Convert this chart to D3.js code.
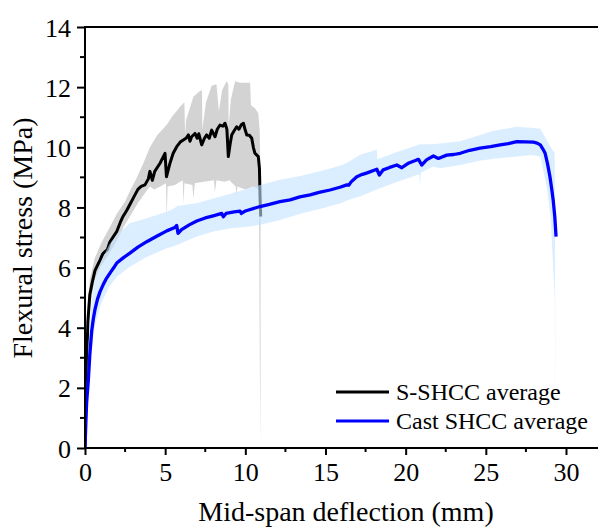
<!DOCTYPE html>
<html>
<head>
<meta charset="utf-8">
<script src="https://cdn.jsdelivr.net/npm/d3@7"></script>
<style>
  body { margin: 0; background: #fff; }
  svg { display: block; font-family: "Liberation Serif", "Times New Roman", serif; }
</style>
</head>
<body>
<svg id="chart" width="598" height="527"></svg>
<script>
// S-SHCC average curve [deflection mm, stress MPa]
const sshccAvg = [
  [0,0],[0.05,1.5],[0.1,2.8],[0.18,4.2],[0.3,5.1],[0.45,5.5],[0.62,5.9],[0.8,6.1],[0.94,6.25],
  [1.1,6.45],[1.25,6.53],[1.4,6.6],[1.55,6.85],[1.77,7.03],[1.98,7.2],[2.2,7.5],[2.37,7.7],
  [2.6,7.9],[2.8,8.1],[3.05,8.35],[3.3,8.6],[3.5,8.7],[3.74,8.75],[3.95,8.95],[4.05,9.2],
  [4.2,8.9],[4.35,9.2],[4.68,9.47],[4.99,9.8],[5.08,9.02],[5.3,9.47],[5.5,9.8],[5.72,10.02],
  [5.95,10.18],[6.13,10.24],[6.3,10.3],[6.45,10.41],[6.55,10.2],[6.65,10.35],[6.86,10.46],
  [7.0,10.3],[7.1,10.45],[7.28,10.08],[7.45,10.3],[7.59,10.41],[7.75,10.3],[7.9,10.57],
  [8.11,10.35],[8.25,10.6],[8.42,10.74],[8.6,10.7],[8.73,10.8],[8.85,10.6],[8.94,9.69],
  [9.05,10.1],[9.15,10.41],[9.3,10.55],[9.46,10.68],[9.6,10.6],[9.75,10.75],[9.88,10.8],
  [9.98,10.6],[10.09,10.41],[10.25,10.4],[10.4,10.3],[10.5,10.0],[10.6,9.8],[10.81,9.69],
  [10.88,9.3],[10.92,8.3],[10.96,7.7]
];
const sshccUpper = [
  [0,0],[0.15,4.5],[0.3,5.6],[0.6,6.3],[1.0,6.8],[1.5,7.3],[2.0,7.8],[2.5,8.2],[2.8,8.55],
  [3.2,8.95],[3.64,9.47],[4.05,10.0],[4.5,10.4],[5.1,10.75],[5.4,11.0],[5.93,11.35],[6.2,11.5],
  [6.24,10.4],[6.3,10.9],[6.76,11.68],[7.1,11.85],[7.3,11.9],[7.32,10.6],[7.55,11.5],
  [7.9,12.05],[8.2,12.1],[8.35,11.2],[8.55,11.9],[8.83,12.2],[8.94,12.1],[8.96,10.7],
  [9.1,11.6],[9.36,12.2],[9.67,12.15],[10.3,12.15],[10.35,11.4],[10.6,11.3],[10.81,11.13],
  [10.9,10.5],[10.95,8.7]
];
const sshccLower = [
  [0,0],[0.2,4.2],[0.35,4.8],[0.6,5.6],[1.0,6.05],[1.5,6.45],[2.0,6.9],[2.4,7.35],[2.8,7.7],
  [3.3,8.15],[3.7,8.45],[4.05,8.7],[4.3,8.6],[4.7,8.7],[5.05,8.8],[5.1,7.6],[5.15,8.7],
  [5.6,8.75],[6.1,8.9],[6.14,8.1],[6.2,8.8],[6.7,8.75],[6.76,8.3],[6.85,8.8],[7.4,8.85],
  [8.05,8.9],[8.1,8.5],[8.2,8.9],[8.7,8.85],[9.0,8.9],[9.4,8.7],[9.45,8.4],[9.5,8.7],
  [10.0,8.6],[10.5,8.7],[10.85,8.6],[10.9,3],[10.95,0]
];

// Cast SHCC average curve
const castAvg = [
  [0,0],[0.05,0.8],[0.1,1.5],[0.21,2.27],[0.3,3.1],[0.42,3.9],[0.52,4.3],[0.62,4.6],[0.78,4.95],
  [0.94,5.2],[1.15,5.45],[1.35,5.65],[1.6,5.85],[1.8,6.0],[1.98,6.15],[2.4,6.33],[2.8,6.48],
  [3.3,6.68],[3.85,6.86],[4.5,7.05],[5.1,7.22],[5.6,7.33],[5.72,7.4],[5.8,7.14],[6.0,7.25],
  [6.5,7.42],[6.97,7.55],[7.5,7.65],[8.0,7.72],[8.53,7.8],[8.63,7.69],[8.8,7.8],[9.3,7.85],
  [9.67,7.88],[9.75,7.8],[10.0,7.88],[10.92,8.03],[11.5,8.1],[12.16,8.19],[12.79,8.25],
  [13.4,8.35],[14.04,8.42],[14.6,8.5],[15.28,8.58],[15.9,8.67],[16.33,8.75],[16.45,8.74],
  [16.6,8.85],[16.95,9.02],[17.3,9.1],[17.6,9.15],[18.2,9.27],[18.36,9.08],[18.6,9.25],
  [19.0,9.33],[19.45,9.41],[19.76,9.32],[20.2,9.48],[20.69,9.58],[20.8,9.6],[21.0,9.41],
  [21.3,9.58],[21.73,9.71],[22.04,9.63],[22.56,9.74],[23.0,9.76],[23.4,9.8],[24.0,9.9],
  [24.64,9.97],[25.3,10.02],[25.89,10.08],[26.4,10.12],[26.93,10.19],[27.5,10.18],
  [27.97,10.17],[28.2,10.14],[28.4,10.08],[28.55,9.95],[28.7,9.8],[28.85,9.45],[29.0,9.02],
  [29.1,8.65],[29.2,8.25],[29.3,7.7],[29.38,7.03]
];
const castUpper = [
  [0,0],[0.1,2.0],[0.2,3.3],[0.4,4.8],[0.62,5.6],[1.0,6.2],[1.5,6.75],[2.0,7.1],[2.8,7.47],
  [3.85,7.64],[5.1,7.86],[5.5,7.95],[5.75,8.05],[6.97,8.14],[8.0,8.3],[9.0,8.45],[10.0,8.6],
  [10.92,8.75],[12.16,8.92],[13.5,9.05],[15.0,9.25],[16.0,9.4],[16.4,9.5],[17.15,9.75],
  [18.2,9.92],[18.24,9.6],[19.5,9.85],[20.9,10.1],[21.7,10.1],[22.15,10.13],[23.4,10.2],
  [24.6,10.4],[25.5,10.55],[26.93,10.68],[27.8,10.65],[28.4,10.62],[28.8,10.24],[29.05,10.0],
  [29.3,9.8],[29.35,0]
];
const castLower = [
  [0,0],[0.1,1.0],[0.2,1.9],[0.4,3.2],[0.62,4.1],[1.0,4.8],[1.5,5.35],[2.0,5.7],[2.8,6.03],
  [3.85,6.35],[5.1,6.64],[5.5,6.7],[5.75,6.75],[6.97,7.03],[8.0,7.2],[9.0,7.3],[10.0,7.35],
  [10.92,7.42],[12.16,7.58],[13.5,7.8],[15.0,8.0],[16.0,8.15],[16.4,8.25],[17.15,8.36],
  [18.2,8.6],[19.5,8.85],[20.85,9.1],[20.9,8.7],[20.95,9.15],[21.7,9.36],[22.15,9.3],
  [23.4,9.41],[24.6,9.55],[25.5,9.62],[26.93,9.69],[27.8,9.74],[28.4,9.69],[28.8,8.69],
  [29.05,7.58],[29.3,5.0],[29.35,0]
];

const xMajor = [0, 5, 10, 15, 20, 25, 30];
const xMinor = [2.5, 7.5, 12.5, 17.5, 22.5, 27.5];
const yMajor = [0, 2, 4, 6, 8, 10, 12, 14];
const yMinor = [1, 3, 5, 7, 9, 11, 13];
const legendLabels = ["S-SHCC average", "Cast SHCC average"];

const serif = "'Liberation Serif', 'Times New Roman', serif";
const svg = d3.select("#chart");
const mLeft = 85, mTop = 27, mBottom = 448, mRight = 598;

const x = d3.scaleLinear().domain([0, 32]).range([mLeft, mLeft + 32 * 16.033]);
const y = d3.scaleLinear().domain([0, 14]).range([mBottom, mTop]);

svg.append("defs").append("clipPath").attr("id", "plot-clip")
  .append("rect").attr("x", mLeft).attr("y", mTop).attr("width", mRight - mLeft).attr("height", mBottom - mTop);

const plot = svg.append("g").attr("clip-path", "url(#plot-clip)");
const line = d3.line().x(d => x(d[0])).y(d => y(d[1]));
const band = (up, lo) => line(up.concat(lo.slice().reverse())) + "Z";

// 灰色带
plot.append("path").attr("d", band(sshccUpper, sshccLower))
  .attr("fill", "#d3d3d3");
plot.append("path").attr("d", line(sshccAvg))
  .attr("fill", "none").attr("stroke", "#000").attr("stroke-width", 3)
  .attr("stroke-linejoin", "round");
// 蓝色带 (半透明, 盖在黑线上)
plot.append("path").attr("d", band(castUpper, castLower))
  .attr("fill", "rgb(195,227,255)").attr("fill-opacity", 0.6);
plot.append("path").attr("d", line(castAvg))
  .attr("fill", "none").attr("stroke", "#0000ff").attr("stroke-width", 3.3)
  .attr("stroke-linejoin", "round");

// axes
const yAxis = svg.append("g").attr("transform", `translate(${mLeft},0)`);
yAxis.call(d3.axisLeft(y).tickValues(yMajor).tickSize(8).tickPadding(6).tickFormat(d3.format("d")));
yAxis.selectAll(".tick-minor").data(yMinor).join("line")
  .attr("x1", -5).attr("x2", 0).attr("y1", d => y(d)).attr("y2", d => y(d))
  .attr("stroke", "#000").attr("stroke-width", 2);

const xAxis = svg.append("g").attr("transform", `translate(0,${mBottom})`);
xAxis.call(d3.axisBottom(x).tickValues(xMajor).tickSize(7).tickPadding(8).tickFormat(d3.format("d")));
xAxis.selectAll(".tick-minor").data(xMinor).join("line")
  .attr("x1", d => x(d)).attr("x2", d => x(d)).attr("y1", 0).attr("y2", 4)
  .attr("stroke", "#000").attr("stroke-width", 2);

svg.selectAll(".domain").remove();
svg.selectAll(".tick line").attr("stroke-width", 2);
svg.selectAll("g").attr("font-family", serif);
svg.selectAll(".tick text").attr("font-size", 26).attr("fill", "#000")
  .attr("font-family", serif);
yAxis.selectAll(".tick text").attr("dy", "0.35em");

// frame lines
svg.append("line").attr("x1", mLeft).attr("x2", mLeft).attr("y1", mTop - 1).attr("y2", mBottom + 1)
  .attr("stroke", "#000").attr("stroke-width", 2);
svg.append("line").attr("x1", mLeft).attr("x2", mRight).attr("y1", mBottom).attr("y2", mBottom)
  .attr("stroke", "#000").attr("stroke-width", 2);
svg.append("line").attr("x1", mLeft).attr("x2", mRight).attr("y1", mTop).attr("y2", mTop)
  .attr("stroke", "#000").attr("stroke-width", 2);

// titles
svg.append("text").attr("x", 346).attr("y", 521).attr("text-anchor", "middle")
  .attr("font-family", serif).attr("font-size", 28).text("Mid-span deflection (mm)");
svg.append("text").attr("transform", "translate(32,238) rotate(-90)").attr("text-anchor", "middle")
  .attr("font-family", serif).attr("font-size", 28).text("Flexural stress (MPa)");

// legend
const legend = svg.append("g");
const legendColors = ["#000", "#0000ff"];
legendLabels.forEach((lab, i) => {
  const ly = 392 + i * 29;
  legend.append("line").attr("x1", 336).attr("x2", 389).attr("y1", ly).attr("y2", ly)
    .attr("stroke", legendColors[i]).attr("stroke-width", 3);
  legend.append("text").attr("x", 396).attr("y", ly + 8).attr("font-family", serif)
    .attr("font-size", 24).text(lab);
});
</script>
</body>
</html>
